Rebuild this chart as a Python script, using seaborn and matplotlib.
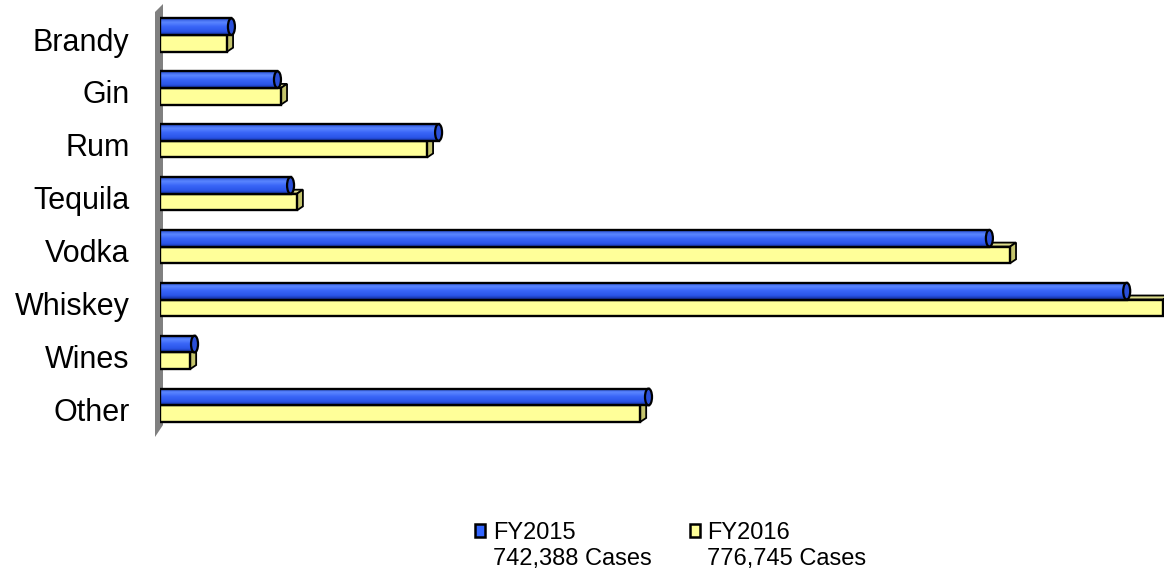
import numpy as np
import pandas as pd
import matplotlib
matplotlib.use("Agg")
import matplotlib.pyplot as plt
import seaborn as sns
from matplotlib.patches import Polygon, Ellipse, Patch
from matplotlib.colors import LinearSegmentedColormap
import matplotlib.transforms as mtrans

# ---- data (cases) ----
categories = ["Brandy", "Gin", "Rum", "Tequila", "Vodka", "Whiskey", "Wines", "Other"]
fy2015 = [18000, 29600, 70200, 32900, 209000, 243600, 8700, 123100]
fy2016 = [16900, 30500, 67300, 34500, 214200, 252800, 7600, 121000]
series = ["FY2015", "FY2016"]
totals = ["742,388 Cases", "776,745 Cases"]
colors = ["#3366FF", "#FFFF99"]

df = pd.DataFrame({
    "Category": categories * 2,
    "Cases": fy2015 + fy2016,
    "Year": [series[0]] * len(categories) + [series[1]] * len(categories),
})

sns.set_theme(style="white")
plt.rcParams["font.family"] = ["Liberation Sans", "DejaVu Sans"]
plt.rcParams["text.color"] = "black"

W, H = 1164, 573
fig = plt.figure(figsize=(W / 100, H / 100), dpi=100)
ax = fig.add_axes([160 / W, 1 - 450 / H, 1004 / W, 450 / H])
ax.patch.set_visible(False)

sns.barplot(data=df, y="Category", x="Cases", hue="Year", order=categories,
            hue_order=series, palette=colors, saturation=1, width=0.63,
            orient="h", errorbar=None, edgecolor="black", linewidth=1.7,
            legend=False, ax=ax)

xmax = 253000
px = xmax / 1004.0      # data units per pixel (x)
py = 1 / 52.9           # data units per pixel (y)

# blue cylinders
cmap = LinearSegmentedColormap.from_list(
    "cyl", [(0, "#2a50d8"), (0.25, "#5a86ff"), (0.5, "#3a66f8"),
            (0.8, "#2a55e8"), (1, "#142f9c")])
grad = np.linspace(0, 1, 64).reshape(-1, 1)
for bar in ax.containers[0]:
    x0, y0, w, h = bar.get_x(), bar.get_y(), bar.get_width(), bar.get_height()
    bar.set_facecolor("none")
    bar.set_zorder(4)
    im = ax.imshow(grad, cmap=cmap, aspect="auto", extent=(x0, x0 + w, y0 + h, y0),
                   origin="upper", zorder=3, interpolation="bilinear")
    im.set_clip_path(bar)
    ax.add_patch(Ellipse((x0 + w, y0 + h / 2), 7 * px, h, facecolor="#2a4fd8",
                         edgecolor="black", lw=1.6, zorder=5))

# yellow boxes
dx, dy = 6 * px, 4 * py
for bar in ax.containers[1]:
    x0, y0, w, h = bar.get_x(), bar.get_y(), bar.get_width(), bar.get_height()
    bar.set_zorder(2.6)
    ax.add_patch(Polygon([(x0, y0), (x0 + w, y0), (x0 + w + dx, y0 - dy), (x0 + dx, y0 - dy)],
                         closed=True, facecolor="#dcdc8a", edgecolor="black", lw=1.3, zorder=2.5))
    ax.add_patch(Polygon([(x0 + w, y0), (x0 + w + dx, y0 - dy), (x0 + w + dx, y0 + h - dy), (x0 + w, y0 + h)],
                         closed=True, facecolor="#c4c46c", edgecolor="black", lw=1.3, zorder=2.5))

ax.set_xlim(0, xmax)
ax.set_ylim((450 - 35) / 52.9, -35 / 52.9)
ax.set_xticks([])
ax.set_xlabel("")
ax.set_ylabel("")
for s in ax.spines.values():
    s.set_visible(False)
ax.tick_params(axis="y", length=0, pad=22, labelsize=22, labelcolor="black")
off = mtrans.ScaledTranslation(0, -4 / 100, fig.dpi_scale_trans)
for lab in ax.get_yticklabels():
    lab.set_transform(lab.get_transform() + off)

# grey back wall
wall = Polygon([(155 / W, 1 - 12 / H), (163 / W, 1 - 4 / H), (163 / W, 1 - 425 / H), (155 / W, 1 - 437 / H)],
               closed=True, transform=fig.transFigure, facecolor="#808080",
               edgecolor="none", zorder=-1)
fig.add_artist(wall)

# legend
handles = [Patch(facecolor=c, edgecolor="black", linewidth=1.8) for c in colors]
leg = fig.legend(handles, series, loc="upper left", bbox_to_anchor=(475 / W, 1 - 522 / H),
                 ncol=2, frameon=False, fontsize=17, handlelength=0.42, handleheight=0.42,
                 handletextpad=0.34, columnspacing=4.83, borderpad=0, borderaxespad=0)
for t in leg.get_texts():
    t.set_color("black")
fig.text(493 / W, 1 - 565 / H, totals[0], fontsize=17, va="baseline", color="black")
fig.text(707 / W, 1 - 565 / H, totals[1], fontsize=17, va="baseline", color="black")

fig.savefig("out.png", dpi=100)
